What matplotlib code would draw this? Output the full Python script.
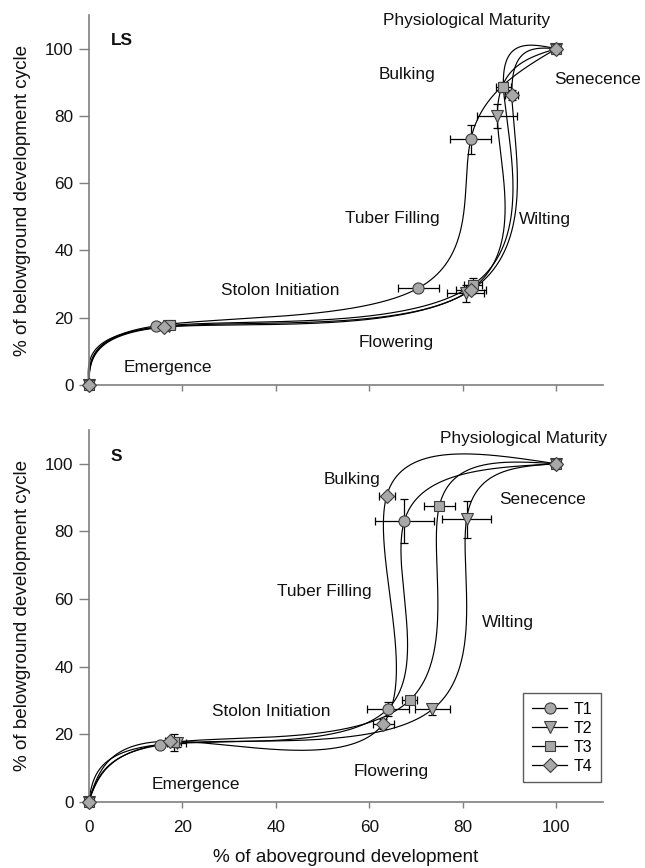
import numpy as np
import matplotlib
matplotlib.use("Agg")
import matplotlib.pyplot as plt
from matplotlib.lines import Line2D

plt.rcParams['font.family'] = ['Liberation Sans', 'DejaVu Sans']

# ---------------- data ----------------
treatments = ["T1", "T2", "T3", "T4"]
markers = ["o", "v", "s", "D"]

# LS panel
ls_x = {
    "T1": [0, 14.5, 70.5, 81.7, 100],
    "T2": [0, 17.2, 80.6, 87.4, 100],
    "T3": [0, 17.4, 82.2, 88.7, 100],
    "T4": [0, 16.2, 81.7, 90.5, 100],
}
ls_y = {
    "T1": [0, 17.6, 28.8, 73.0, 100],
    "T2": [0, 17.4, 27.3, 79.9, 100],
    "T3": [0, 17.7, 29.8, 88.7, 100],
    "T4": [0, 17.2, 28.1, 86.1, 100],
}
ls_xerr = {
    "T1": [0, 0.8, 4.4, 4.4, 0],
    "T2": [0, 1.0, 4.0, 4.3, 0],
    "T3": [0, 1.0, 2.0, 1.6, 0],
    "T4": [0, 0.8, 3.2, 1.4, 0],
}
ls_yerr = {
    "T1": [0, 0.8, 0.8, 4.2, 0],
    "T2": [0, 0.8, 2.5, 3.5, 0],
    "T3": [0, 0.8, 2.0, 1.5, 0],
    "T4": [0, 0.8, 1.2, 1.5, 0],
}

# S panel
s_x = {
    "T1": [0, 15.3, 64.0, 67.5, 100],
    "T2": [0, 18.8, 73.5, 80.8, 100],
    "T3": [0, 18.2, 68.7, 75.0, 100],
    "T4": [0, 17.4, 63.0, 63.7, 100],
}
s_y = {
    "T1": [0, 16.9, 27.5, 83.1, 100],
    "T2": [0, 17.3, 27.3, 83.6, 100],
    "T3": [0, 17.6, 30.1, 87.6, 100],
    "T4": [0, 17.9, 23.1, 90.4, 100],
}
s_xerr = {
    "T1": [0, 0.5, 4.4, 6.3, 0],
    "T2": [0, 2.0, 3.7, 5.3, 0],
    "T3": [0, 1.5, 1.6, 3.3, 0],
    "T4": [0, 1.0, 2.2, 1.7, 0],
}
s_yerr = {
    "T1": [0, 0.5, 2.0, 6.5, 0],
    "T2": [0, 1.0, 1.5, 5.5, 0],
    "T3": [0, 2.5, 1.0, 1.0, 0],
    "T4": [0, 1.0, 1.5, 0.8, 0],
}

ls_labels = [
    ("Physiological Maturity", 80.7, 108.5),
    ("Bulking", 68.0, 92.4),
    ("Senecence", 108.8, 90.9),
    ("Tuber Filling", 65.0, 49.4),
    ("Wilting", 97.5, 49.2),
    ("Stolon Initiation", 41.0, 28.0),
    ("Flowering", 65.8, 12.5),
    ("Emergence", 17.0, 5.3),
]
s_labels = [
    ("Physiological Maturity", 93.0, 107.4),
    ("Bulking", 56.4, 95.5),
    ("Senecence", 97.1, 89.4),
    ("Tuber Filling", 50.4, 62.1),
    ("Wilting", 89.6, 53.1),
    ("Stolon Initiation", 39.0, 26.7),
    ("Flowering", 64.7, 8.9),
    ("Emergence", 23.0, 5.0),
]

ticks = [0, 20, 40, 60, 80, 100]

# ---------------- helpers ----------------
def natural_spline(v, n=120):
    v = np.asarray(v, float)
    m = len(v)
    A = np.zeros((m, m))
    b = np.zeros(m)
    A[0, 0] = 1
    A[-1, -1] = 1
    for i in range(1, m - 1):
        A[i, i - 1] = 1
        A[i, i] = 4
        A[i, i + 1] = 1
        b[i] = 6 * (v[i + 1] - 2 * v[i] + v[i - 1])
    M = np.linalg.solve(A, b)
    out = []
    for i in range(m - 1):
        u = np.linspace(0, 1, n, endpoint=(i == m - 2))
        s = ((1 - u) * v[i] + u * v[i + 1]
             + ((1 - u) ** 3 - (1 - u)) * M[i] / 6
             + (u ** 3 - u) * M[i + 1] / 6)
        out.append(s)
    return np.concatenate(out)


FILL = "#a8a8a8"
EDGE = "#3c3c3c"
SPINE = "#7f7f7f"


def draw_panel(ax, xs, ys, xes, yes, labels, tag):
    for t in treatments:
        cx = natural_spline(xs[t])
        cy = natural_spline(ys[t])
        ax.plot(cx, cy, color="black", lw=0.85, zorder=2, clip_on=False)
    for t, mk in zip(treatments, markers):
        x = np.array(xs[t]); y = np.array(ys[t])
        xe = np.array(xes[t]); ye = np.array(yes[t])
        mx = xe > 0
        if mx.any():
            ax.errorbar(x[mx], y[mx], xerr=xe[mx], fmt="none", ecolor="black",
                        elinewidth=0.9, capsize=3, capthick=0.9, zorder=3)
        my = ye > 0
        if my.any():
            ax.errorbar(x[my], y[my], yerr=ye[my], fmt="none", ecolor="black",
                        elinewidth=0.9, capsize=3, capthick=0.9, zorder=3)
    for t, mk in zip(treatments, markers):
        ms = 8 if mk != "D" else 7
        if mk == "s":
            ms = 7.5
        ax.plot(xs[t], ys[t], linestyle="none", marker=mk, ms=ms,
                mfc=FILL, mec=EDGE, mew=0.8, zorder=4, clip_on=False)
    for txt, x, y in labels:
        ax.text(x, y, txt, ha="center", va="center", fontsize=12.4,
                color="#111111", clip_on=False)
    ax.text(4.7, 102.3, tag, ha="left", va="center", fontsize=12.4,
            fontweight="bold", color="#111111")

    ax.set_xlim(0, 110)
    ax.set_ylim(0, 110)
    ax.set_xticks(ticks)
    ax.set_yticks(ticks)
    for s in ["top", "right"]:
        ax.spines[s].set_visible(False)
    for s in ["left", "bottom"]:
        ax.spines[s].set_color(SPINE)
        ax.spines[s].set_linewidth(1.2)
    ax.tick_params(axis="y", direction="out", length=7, width=1, color=SPINE,
                   labelsize=12.3, pad=4, labelcolor="#111111")
    ax.tick_params(axis="x", direction="out", length=4, width=1, color=SPINE,
                   labelsize=12.3, pad=9, labelcolor="#111111")
    ax.set_ylabel("% of belowground development cycle", fontsize=13.6,
                  color="#111111", labelpad=10)


fig = plt.figure(figsize=(6.45, 8.68), dpi=100)
ax1 = fig.add_axes([0.1375, 0.5565, 0.7975, 0.4262])
ax2 = fig.add_axes([0.1375, 0.0764, 0.7975, 0.4282])

draw_panel(ax1, ls_x, ls_y, ls_xerr, ls_yerr, ls_labels, "LS")
draw_panel(ax2, s_x, s_y, s_xerr, s_yerr, s_labels, "S")
ax1.tick_params(axis="x", labelbottom=False)
ax2.set_xlabel("% of aboveground development", fontsize=13.6,
               color="#111111", labelpad=10)

handles = [Line2D([0], [0], color="black", lw=0.9, marker=mk,
                  ms=(8 if mk not in "Ds" else 7.5), mfc=FILL, mec=EDGE, mew=0.8)
           for mk in markers]
leg = ax2.legend(handles, treatments, loc="upper right",
                 bbox_to_anchor=(0.996, 0.293), fontsize=11.5,
                 frameon=True, fancybox=False, edgecolor="#333333",
                 handlelength=2.2, labelspacing=0.25, borderpad=0.55,
                 handletextpad=0.4, borderaxespad=0)
leg.get_frame().set_linewidth(1.0)

fig.savefig("out.png", dpi=100)
